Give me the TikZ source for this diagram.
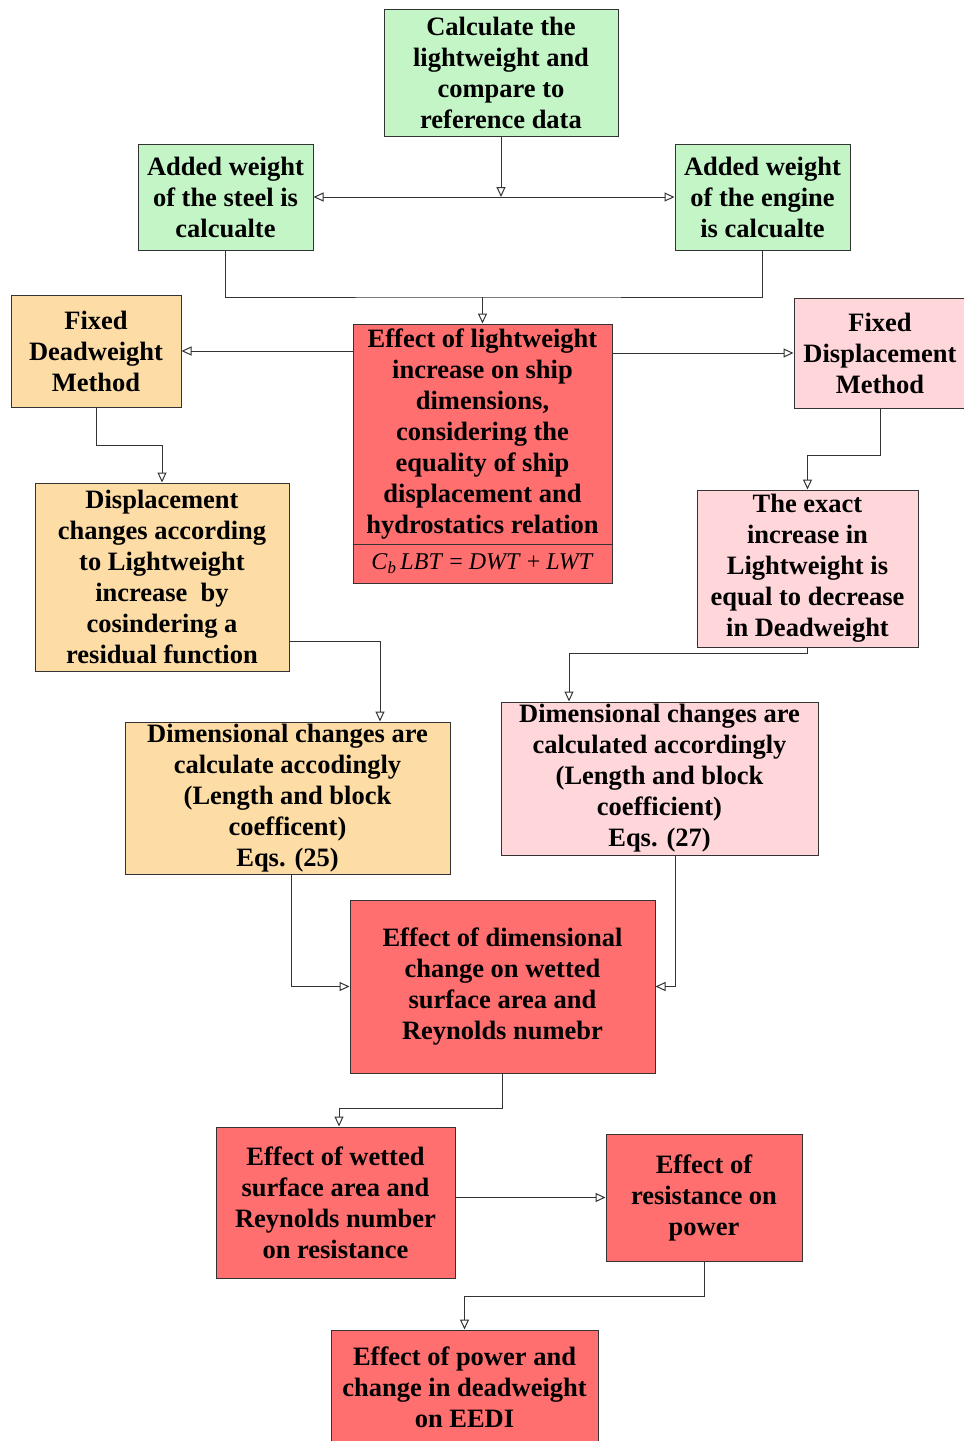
\documentclass[tikz,border=0pt]{standalone}
\usepackage{fontspec}
\setmainfont{Liberation Serif}
\usetikzlibrary{arrows.meta}
\definecolor{gfill}{HTML}{C4F5C7}
\definecolor{ofill}{HTML}{FDDCA5}
\definecolor{pfill}{HTML}{FFD6D9}
\definecolor{rfill}{HTML}{FF6F6F}
\definecolor{edge}{HTML}{333333}
\tikzset{
  box/.style={draw=edge, line width=1pt, rectangle, align=center, inner sep=0pt,
    font=\bfseries\fontsize{26.5}{31}\selectfont},
  gbox/.style={box, fill=gfill},
  obox/.style={box, fill=ofill},
  pbox/.style={box, fill=pfill},
  rbox/.style={box, fill=rfill},
  conn/.style={draw=edge, line width=1pt},
  arr/.style={conn, -{Triangle[open, length=10pt, width=9pt]}},
  darr/.style={conn, {Triangle[open, length=10pt, width=9pt]}-{Triangle[open, length=10pt, width=9pt]}}
}
\begin{document}
\begin{tikzpicture}[x=1pt, y=-1pt]
\useasboundingbox (0,0) rectangle (964,1441);

\node[gbox, minimum width=234pt, minimum height=127pt] (calc) at (501,72.5)
  {Calculate the\\lightweight and\\compare to\\reference data};
\node[gbox, minimum width=175pt, minimum height=106pt] (steel) at (225.5,197)
  {Added weight\\of the steel is\\calcualte};
\node[gbox, minimum width=175pt, minimum height=106pt] (engine) at (762.5,197)
  {Added weight\\of the engine\\is calcualte};

\node[obox, minimum width=170pt, minimum height=112pt] (fdw) at (96,351)
  {Fixed\\Deadweight\\Method};
\node[rbox, minimum width=259pt, minimum height=220pt] (centre) at (482.5,434)
  {Effect of lightweight\\increase on ship\\dimensions,\\considering the\\equality of ship\\displacement and\\hydrostatics relation};
\node[rbox, minimum width=259pt, minimum height=39pt, font=\fontsize{24}{26}\selectfont] (eq) at (482.5,563.5)
  {\textit{C}\textsubscript{\textit{b}}\,\textit{LBT} = \textit{DWT} + \textit{LWT}};
\node[pbox, minimum width=172pt, minimum height=110pt] (fdisp) at (880,353)
  {Fixed\\Displacement\\Method};

\node[obox, minimum width=254pt, minimum height=188pt] (dispch) at (162,577)
  {Displacement\\changes according\\to Lightweight\\increase\ \ by\\cosindering a\\residual function};
\node[pbox, minimum width=221pt, minimum height=157pt] (exact) at (807.5,568.5)
  {The exact\\increase in\\Lightweight is\\equal to decrease\\in Deadweight};

\node[obox, minimum width=325pt, minimum height=152pt] (dimO) at (287.5,798)
  {Dimensional changes are\\calculate accodingly\\(Length and block\\coefficent)\\Eqs. (25)};
\node[pbox, minimum width=317pt, minimum height=153pt] (dimP) at (659.5,778.5)
  {Dimensional changes are\\calculated accordingly\\(Length and block\\coefficient)\\Eqs. (27)};

\node[rbox, minimum width=305pt, minimum height=173pt] (effdim) at (502.5,986.5)
  {Effect of dimensional\\change on wetted\\surface area and\\Reynolds numebr};
\node[rbox, minimum width=239pt, minimum height=151pt] (wetted) at (335.5,1202.5)
  {Effect of wetted\\surface area and\\Reynolds number\\on resistance};
\node[rbox, minimum width=196pt, minimum height=127pt] (power) at (704,1197.5)
  {Effect of\\resistance on\\power};
\node[rbox, minimum width=267pt, minimum height=114pt] (eedi) at (464.5,1387)
  {Effect of power and\\change in deadweight\\on EEDI};

% connectors
\draw[darr] (steel.east) -- (engine.west);
\draw[arr] (calc.south) -- (calc.south |- steel.east);
\coordinate (j1) at (482.5,297);
\draw[conn] (steel.south) |- (j1) -| (engine.south);
\draw[arr] (j1) -- (centre.north);
\draw[arr] (centre.west |- fdw.east) -- (fdw.east);
\draw[arr] (centre.east |- fdisp.west) -- (fdisp.west);
\draw[arr] (fdw.south) -- ++(0,38) -| (dispch.north);
\draw[arr] (fdisp.south) -- ++(0,47) -| (exact.north);
\draw[arr] ([yshift=-64pt]dispch.east) -| ([xshift=92.5pt]dimO.north);
\draw[arr] (exact.south) -- ++(0,6) -| ([xshift=-90.5pt]dimP.north);
\draw[arr] ([xshift=3.5pt]dimO.south) |- (effdim.west);
\draw[arr] ([xshift=15.5pt]dimP.south) |- (effdim.east);
\draw[arr] (effdim.south) -- ++(0,35) -| ([xshift=3.5pt]wetted.north);
\draw[arr] (wetted.east |- power.west) -- (power.west);
\draw[arr] (power.south) -- ++(0,35) -| (eedi.north);
\end{tikzpicture}
\end{document}
